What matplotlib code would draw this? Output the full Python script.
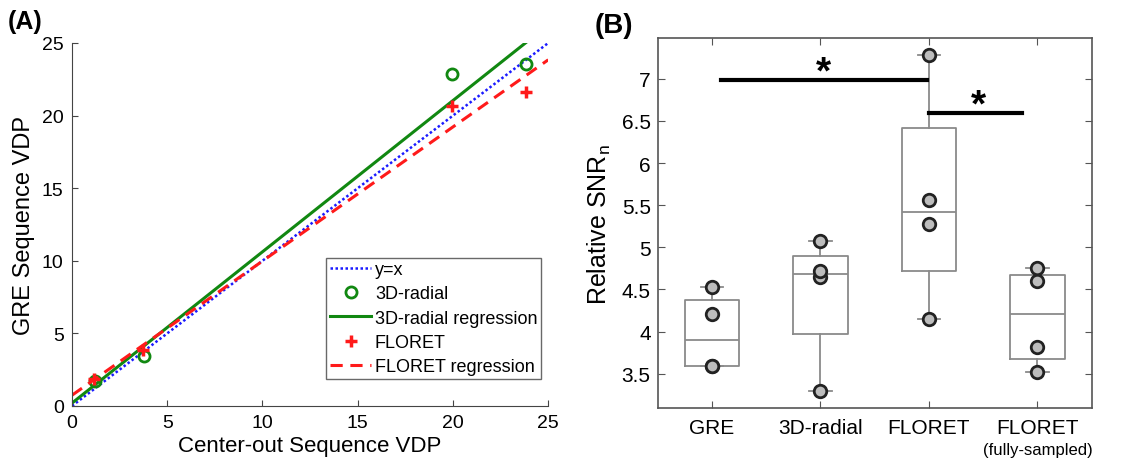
import numpy as np
import matplotlib
matplotlib.use('Agg')
import matplotlib.pyplot as plt
import matplotlib.transforms as mtransforms

plt.rcParams['font.family'] = ['Liberation Sans', 'DejaVu Sans']
plt.rcParams['mathtext.fontset'] = 'custom'
plt.rcParams['mathtext.rm'] = 'Liberation Sans'

# (A) VDP data
radial_x = [1.21, 3.80, 19.94, 23.84]
radial_y = [1.74, 3.47, 22.87, 23.55]
floret_x = [1.17, 3.75, 19.96, 23.84]
floret_y = [1.86, 3.88, 20.64, 21.60]

# (B) relative SNR_n
groups = ['GRE', '3D-radial', 'FLORET', 'FLORET']
snr_gre = [3.59, 3.59, 4.21, 4.53]
snr_radial = [3.29, 4.65, 4.72, 5.08]
snr_floret = [4.15, 5.28, 5.56, 7.28]
snr_floret_full = [3.52, 3.82, 4.60, 4.75]

fig = plt.figure(figsize=(11.46, 4.77), dpi=100)

## panel A
ax1 = fig.add_axes([0.0628, 0.1468, 0.4156, 0.761])
xx = np.array([0, 25])
ax1.plot(xx, xx, color='#1a1aff', ls=(0, (1, 1)), lw=1.8, label='y=x')
ax1.plot(radial_x, radial_y, 'o', color='#118811', mfc='none', ms=8, mew=2, label='3D-radial')
p = np.polyfit(radial_x, radial_y, 1)
xr = np.array([0, max(radial_x)])
ax1.plot(xr, np.polyval(p, xr), color='#118811', lw=2.2, label='3D-radial regression')
ax1.plot(floret_x, floret_y, '+', color='#ff1a1a', ms=8, mew=2.5, label='FLORET')
p = np.polyfit(floret_x, floret_y, 1)
ax1.plot(xx, np.polyval(p, xx), color='#ff1a1a', lw=2.2, ls=(0, (4, 2.5)), label='FLORET regression')

ax1.set_xlim(0, 25)
ax1.set_ylim(0, 25)
ax1.set_xticks([0, 5, 10, 15, 20, 25])
ax1.set_yticks([0, 5, 10, 15, 20, 25])
for s in ['top', 'right']:
    ax1.spines[s].set_visible(False)
for s in ['left', 'bottom']:
    ax1.spines[s].set_color('#444444')
ax1.tick_params(direction='in', length=4, labelsize=14, color='#444444', pad=6)
ax1.set_xlabel('Center-out Sequence VDP', fontsize=16, labelpad=3)
ax1.set_ylabel('GRE Sequence VDP', fontsize=17, labelpad=5)
leg = ax1.legend(loc='lower right', bbox_to_anchor=(0.985, 0.075), fontsize=13, frameon=True,
                 fancybox=False, edgecolor='#444444', handlelength=2.3, handletextpad=0.2,
                 labelspacing=0.4, borderpad=0.2, borderaxespad=0)
leg.get_frame().set_linewidth(1.0)
fig.text(0.007, 0.94, '(A)', fontsize=18, fontweight='bold')

## panel B
ax2 = fig.add_axes([0.5739, 0.1419, 0.3787, 0.7757])
data = [snr_gre, snr_radial, snr_floret, snr_floret_full]
stats = []
for d in data:
    d = np.array(d)
    q1, med, q3 = np.percentile(d, [25, 50, 75], method='hazen')
    iqr = q3 - q1
    lo = d[d >= q1 - 1.5 * iqr].min()
    hi = d[d <= q3 + 1.5 * iqr].max()
    stats.append({'med': med, 'q1': q1, 'q3': q3, 'whislo': lo, 'whishi': hi, 'fliers': []})
gray = '#8a8a8a'
pos = np.arange(1, 5)
ax2.bxp(stats, positions=pos, widths=0.5, capwidths=0.21, showfliers=False,
        boxprops=dict(color=gray, lw=1.3), whiskerprops=dict(color=gray, lw=1.3, ls='-'),
        capprops=dict(color=gray, lw=1.3), medianprops=dict(color=gray, lw=1.3))
for i, d in enumerate(data):
    ax2.plot([pos[i]] * len(d), d, 'o', mfc='#bdbdbd', mec='#222222', mew=2, ms=9, zorder=5)

ax2.plot([1.08, 2.98], [6.98, 6.98], color='black', lw=3)
ax2.text(2.03, 7.08, '*', fontsize=28, ha='center', va='center', fontweight='bold')
ax2.plot([3.0, 3.86], [6.59, 6.59], color='black', lw=3)
ax2.text(3.46, 6.68, '*', fontsize=28, ha='center', va='center', fontweight='bold')

ax2.set_xlim(0.5, 4.5)
ax2.set_ylim(3.09, 7.48)
yt = [3.5, 4, 4.5, 5, 5.5, 6, 6.5, 7]
ax2.set_yticks(yt)
ax2.set_yticklabels(['%g' % v for v in yt])
ax2.set_xticks(pos)
ax2.set_xticklabels(groups)
for s in ax2.spines.values():
    s.set_color('#555555')
    s.set_linewidth(1.2)
ax2.tick_params(direction='in', length=5, labelsize=15, color='#555555', top=True, right=True)
ax2.tick_params(axis='y', pad=5)
ax2.tick_params(axis='x', pad=7)
ax2.set_ylabel(r'Relative SNR$_{\rm n}$', fontsize=18, labelpad=6)
trans = mtransforms.blended_transform_factory(ax2.transData, ax2.transAxes)
ax2.text(4, -0.09, '(fully-sampled)', transform=trans, fontsize=12, ha='center', va='top')
fig.text(0.519, 0.93, '(B)', fontsize=20, fontweight='bold')

fig.savefig('out.png', dpi=100)
